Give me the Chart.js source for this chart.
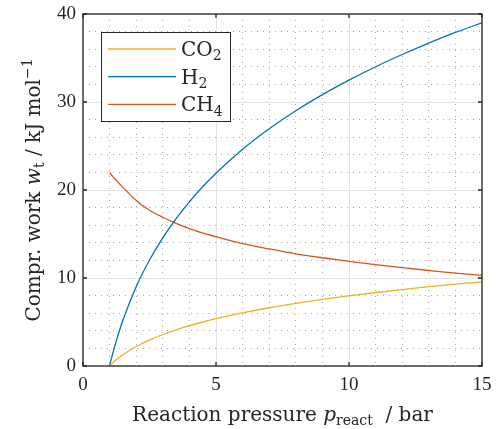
<!DOCTYPE html>
<html>
<head>
<meta charset="utf-8">
<script src="https://cdn.jsdelivr.net/npm/chart.js"></script>
<style>
  html, body { margin: 0; padding: 0; background: #fff; }
  #wrap { width: 498px; height: 429px; }
</style>
</head>
<body>
<div id="wrap"><canvas id="workChart" width="498" height="429"></canvas></div>
<script>
// Compression work vs. reaction pressure
const pressure = [1, 1.1, 1.25, 1.5, 2, 2.5, 3, 3.5, 4, 4.5, 5, 6, 7, 8, 9, 10, 11, 12, 13, 14, 15];
const co2Work = [0, 0.29, 0.7, 1.27, 2.21, 2.95, 3.58, 4.11, 4.58, 5.0, 5.38, 6.04, 6.62, 7.12, 7.57, 7.98, 8.35, 8.69, 9.01, 9.3, 9.55];
const h2Work = [0, 1.2, 2.83, 5.19, 9.01, 12.04, 14.57, 16.74, 18.66, 20.37, 21.9, 24.63, 26.96, 29.01, 30.84, 32.49, 34.01, 35.4, 36.7, 37.9, 39.0];
const ch4Work = [22.0, 21.6, 21.1, 20.3, 18.8, 17.7, 16.9, 16.2, 15.6, 15.1, 14.7, 13.9, 13.3, 12.75, 12.3, 11.9, 11.52, 11.17, 10.85, 10.55, 10.3];

const xTicks = [0, 5, 10, 15];
const yTicks = [0, 10, 20, 30, 40];

const TICK_FONT = '"Liberation Serif", serif';
const FONT = '"DejaVu Serif", serif';
const TEXT = '#262626';

function toPoints(ys) {
    return pressure.map((p, i) => ({ x: p, y: ys[i] }));
}

// draw a run of text pieces: {t, it, sub, sup}
function pieces(ctx, parts, size) {
    return parts.map(p => {
        const s = (p.sub || p.sup) ? size * 0.7 : size;
        const font = (p.it ? 'italic ' : '') + s + 'px ' + FONT;
        ctx.font = font;
        return { t: p.t, font: font, w: ctx.measureText(p.t).width, dy: p.sub ? size * 0.22 : (p.sup ? -size * 0.38 : 0) };
    });
}

function drawRich(ctx, parts, size, x, y, align) {
    const list = pieces(ctx, parts, size);
    const total = list.reduce((a, p) => a + p.w, 0);
    let cx = align === 'center' ? x - total / 2 : x;
    ctx.textBaseline = 'alphabetic';
    ctx.textAlign = 'left';
    list.forEach(p => {
        ctx.font = p.font;
        ctx.fillText(p.t, cx, y + p.dy);
        cx += p.w;
    });
}

const framePlugin = {
    id: 'frame',
    afterDraw(chart) {
        const ctx = chart.ctx;
        const a = chart.chartArea;
        const xs = chart.scales.x, ys = chart.scales.y;
        ctx.save();
        // axes box
        ctx.strokeStyle = TEXT;
        ctx.lineWidth = 1.3;
        ctx.strokeRect(a.left, a.top, a.right - a.left, a.bottom - a.top);
        // inward ticks
        ctx.beginPath();
        xTicks.forEach(v => {
            const px = xs.getPixelForValue(v);
            ctx.moveTo(px, a.bottom); ctx.lineTo(px, a.bottom - 4);
            ctx.moveTo(px, a.top); ctx.lineTo(px, a.top + 4);
        });
        yTicks.forEach(v => {
            const py = ys.getPixelForValue(v);
            ctx.moveTo(a.left, py); ctx.lineTo(a.left + 4, py);
            ctx.moveTo(a.right, py); ctx.lineTo(a.right - 4, py);
        });
        ctx.stroke();

        // legend
        const lx = 101, ly = 32, lw = 129, lh = 89;
        ctx.fillStyle = '#fff';
        ctx.fillRect(lx, ly, lw, lh);
        ctx.lineWidth = 1;
        ctx.strokeStyle = TEXT;
        ctx.strokeRect(lx + 0.5, ly + 0.5, lw, lh);
        const legendItems = [
            { name: 'CO', sub: '2', color: chart.data.datasets[0].borderColor },
            { name: 'H', sub: '2', color: chart.data.datasets[1].borderColor },
            { name: 'CH', sub: '4', color: chart.data.datasets[2].borderColor }
        ];
        legendItems.forEach((it, i) => {
            const y = 49 + i * 27.7;
            ctx.strokeStyle = it.color;
            ctx.lineWidth = 1.3;
            ctx.beginPath();
            ctx.moveTo(108, y); ctx.lineTo(176, y);
            ctx.stroke();
            ctx.fillStyle = TEXT;
            drawRich(ctx, [{ t: it.name }, { t: it.sub, sub: true }], 20, 181, y + 7, 'left');
        });

        // axis titles
        ctx.fillStyle = TEXT;
        drawRich(ctx, [
            { t: 'Reaction pressure ' }, { t: 'p', it: true }, { t: 'react', sub: true }, { t: '  / bar' }
        ], 20, (a.left + a.right) / 2, 421, 'center');

        ctx.translate(40, (a.top + a.bottom) / 2);
        ctx.rotate(-Math.PI / 2);
        drawRich(ctx, [
            { t: 'Compr. work ' }, { t: 'w', it: true }, { t: 't', sub: true }, { t: ' / kJ mol' }, { t: '\u22121', sup: true }
        ], 20, 0, 0, 'center');
        ctx.restore();
    }
};

function gridColor(major) {
    return ctx => {
        if (!ctx.tick) return 'rgba(0,0,0,0)';
        return ctx.tick.value % major === 0 ? '#e3e3e3' : '#a8a8a8';
    };
}
function gridDash(major) {
    return ctx => {
        if (!ctx.tick) return [];
        return ctx.tick.value % major === 0 ? [] : [1, 5];
    };
}

const lineStyle = { borderWidth: 1.3, pointRadius: 0, fill: false, cubicInterpolationMode: 'monotone' };

new Chart(document.getElementById('workChart').getContext('2d'), {
    type: 'line',
    data: {
        datasets: [{
            label: 'CO2',
            data: toPoints(co2Work),
            borderColor: '#EDB120',
            ...lineStyle
        }, {
            label: 'H2',
            data: toPoints(h2Work),
            borderColor: '#0072BD',
            ...lineStyle
        }, {
            label: 'CH4',
            data: toPoints(ch4Work),
            borderColor: '#D95319',
            ...lineStyle
        }]
    },
    options: {
        responsive: false,
        animation: false,
        layout: { padding: { left: 0, top: 14, right: 16, bottom: 0 } },
        plugins: {
            legend: { display: false },
            tooltip: { enabled: false }
        },
        scales: {
            x: {
                type: 'linear',
                min: 0,
                max: 15,
                ticks: {
                    stepSize: 1,
                    autoSkip: false,
                    maxRotation: 0,
                    padding: 8,
                    color: TEXT,
                    font: { family: TICK_FONT, size: 19 },
                    callback: v => (v % 5 === 0 ? String(v) : '')
                },
                grid: {
                    color: gridColor(5),
                    lineWidth: 1,
                    drawTicks: false
                },
                border: { display: false, dash: gridDash(5) },
                afterFit: s => { s.height = 63; s.paddingLeft = 0; s.paddingRight = 0; }
            },
            y: {
                min: 0,
                max: 40,
                ticks: {
                    stepSize: 2,
                    autoSkip: false,
                    padding: 7,
                    color: TEXT,
                    font: { family: TICK_FONT, size: 19 },
                    callback: v => (v % 10 === 0 ? String(v) : '')
                },
                grid: {
                    color: gridColor(10),
                    lineWidth: 1,
                    drawTicks: false
                },
                border: { display: false, dash: gridDash(10) },
                afterFit: s => { s.width = 83; s.paddingTop = 0; s.paddingBottom = 0; }
            }
        }
    },
    plugins: [framePlugin]
});
</script>
</body>
</html>
